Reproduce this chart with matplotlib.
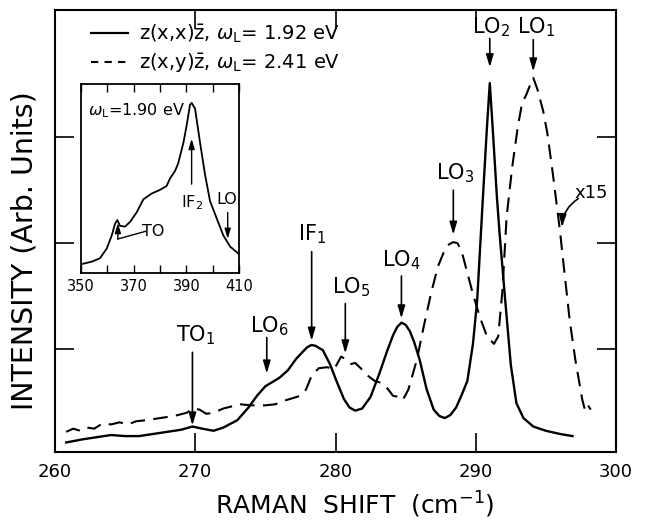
import matplotlib
matplotlib.use("Agg")
import matplotlib.pyplot as plt
from matplotlib.lines import Line2D

# ---------------- data ----------------
solid_x = [260.8, 262.0, 263.0, 264.0, 265.0, 266.0, 267.0, 268.0, 269.0, 269.8,
           270.5, 271.3, 272.0, 273.0, 273.8, 274.4, 275.0, 275.5, 276.0, 276.6,
           277.2, 277.7, 278.0, 278.3, 278.6, 279.1, 279.6, 280.1, 280.6, 281.0,
           281.4, 281.9, 282.5, 283.1, 283.7, 284.1, 284.4, 284.7, 285.0, 285.3,
           285.6, 286.0, 286.5, 287.0, 287.4, 287.8, 288.2, 288.6, 289.0, 289.4,
           289.8, 290.1, 290.5, 290.8, 291.0, 291.2, 291.5, 291.7, 292.1, 292.5,
           292.9, 293.4, 294.1, 295.0, 296.0, 296.9]
solid_y = [0.12, 0.15, 0.17, 0.19, 0.18, 0.18, 0.20, 0.22, 0.24, 0.27,
           0.25, 0.23, 0.26, 0.33, 0.45, 0.56, 0.65, 0.69, 0.73, 0.80,
           0.91, 0.98, 1.02, 1.04, 1.03, 0.99, 0.86, 0.69, 0.53, 0.45,
           0.42, 0.44, 0.55, 0.76, 0.99, 1.13, 1.21, 1.25, 1.23, 1.17,
           1.07, 0.90, 0.62, 0.43, 0.37, 0.35, 0.38, 0.45, 0.57, 0.70,
           1.05, 1.46, 2.41, 3.10, 3.51, 3.10, 2.45, 2.09, 1.46, 0.85,
           0.49, 0.35, 0.27, 0.23, 0.20, 0.18]

dashed_x = [260.8, 261.3, 261.8, 262.3, 262.8, 263.4, 264.0, 264.6, 265.2, 265.8,
            266.5, 267.5, 268.5, 269.4, 269.8, 270.3, 270.8, 271.3, 272.0, 272.6,
            273.2, 274.0, 275.0, 275.7, 276.5, 277.0, 277.5, 277.9, 278.3, 278.8,
            279.4, 279.9, 280.4, 280.8, 281.1, 281.4, 281.8, 282.3, 282.8, 283.3,
            283.7, 284.1, 284.5, 284.8, 285.2, 285.8, 286.3, 286.8, 287.3, 287.8,
            288.1, 288.4, 288.7, 289.0, 289.4, 289.8, 290.3, 290.8, 291.3, 291.6,
            291.9, 292.2, 292.6, 293.0, 293.3, 293.6, 293.9, 294.1, 294.4, 294.8,
            295.1, 295.5, 296.0, 296.3, 296.7, 297.1, 297.6, 297.8, 298.0, 298.2]
dashed_y = [0.22, 0.25, 0.23, 0.26, 0.25, 0.30, 0.29, 0.31, 0.29, 0.32,
            0.33, 0.35, 0.37, 0.40, 0.44, 0.43, 0.39, 0.40, 0.44, 0.46,
            0.48, 0.47, 0.47, 0.48, 0.52, 0.54, 0.56, 0.62, 0.75, 0.82,
            0.83, 0.81, 0.93, 0.90, 0.86, 0.87, 0.82, 0.75, 0.70, 0.68,
            0.63, 0.56, 0.55, 0.52, 0.62, 0.90, 1.22, 1.52, 1.78, 1.94,
            1.99, 2.01, 2.00, 1.92, 1.72, 1.52, 1.30, 1.12, 1.05, 1.12,
            1.55, 2.25, 2.72, 3.10, 3.32, 3.40, 3.50, 3.56, 3.45, 3.25,
            3.04, 2.65, 2.12, 1.75, 1.27, 0.90, 0.52, 0.42, 0.47, 0.43]

inset_x = [349.9, 354.1, 357.2, 359.8, 361.7, 362.9, 363.8, 364.8, 366.7, 368.6,
           371.1, 373.7, 376.8, 380.0, 382.5, 383.8, 385.7, 386.9, 388.9, 390.1,
           391.4, 392.0, 393.3, 395.2, 397.1, 399.0, 401.5, 404.0, 406.6, 410.0]
inset_y = [0.046, 0.06, 0.078, 0.13, 0.20, 0.26, 0.28, 0.25, 0.245, 0.27,
           0.32, 0.39, 0.42, 0.44, 0.46, 0.50, 0.54, 0.58, 0.69, 0.78,
           0.89, 0.90, 0.87, 0.69, 0.52, 0.38, 0.29, 0.20, 0.14, 0.10]

x_ticks = [260, 270, 280, 290, 300]
x_ticklabels = ["260", "270", "280", "290", "300"]
inset_ticks = [350, 360, 370, 380, 390, 400, 410]
inset_ticklabels = ["350", "", "370", "", "390", "", "410"]

legend_labels = [r"z(x,x)$\bar{\mathrm{z}}$, $\omega_{\mathrm{L}}$= 1.92 eV",
                 r"z(x,y)$\bar{\mathrm{z}}$, $\omega_{\mathrm{L}}$= 2.41 eV"]

# peak labels: (text, text x, text y, arrow tail y, arrow tip y)
peak_labels = [
    (r"TO$_1$", 270.0, 1.13, 0.97, 0.28),
    (r"LO$_6$", 275.3, 1.22, 1.11, 0.77),
    (r"IF$_1$", 278.3, 2.08, 1.92, 1.08),
    (r"LO$_5$", 281.1, 1.58, 1.43, 0.96),
    (r"LO$_4$", 284.7, 1.84, 1.69, 1.29),
    (r"LO$_3$", 288.5, 2.66, 2.50, 2.08),
    (r"LO$_2$", 291.1, 4.04, 3.93, 3.66),
    (r"LO$_1$", 294.3, 4.04, 3.92, 3.62),
]
arrow_x = [269.8, 275.1, 278.3, 280.7, 284.7, 288.4, 291.0, 294.1]

# ---------------- figure ----------------
fig = plt.figure(figsize=(6.46, 5.2), dpi=100)
ax = fig.add_axes([0.0851, 0.1308, 0.8685, 0.85])

ax.plot(solid_x, solid_y, color="black", lw=1.7, solid_joinstyle="round")
ax.plot(dashed_x, dashed_y, color="black", lw=1.5, dashes=(7, 4))

ax.set_xlim(260, 300)
ax.set_ylim(0.03, 4.2)
ax.set_xticks(x_ticks)
ax.set_xticklabels(x_ticklabels, fontsize=13)
ax.set_yticks([1, 2, 3])
ax.set_yticklabels([])
ax.tick_params(direction="in", length=14, width=1.2, top=True, right=True, pad=8)
for s in ax.spines.values():
    s.set_linewidth(1.5)

ax.set_xlabel(r"RAMAN  SHIFT  (cm$^{-1}$)", fontsize=18)
ax.xaxis.set_label_coords(0.535, -0.085)
ax.set_ylabel("INTENSITY (Arb. Units)", fontsize=20.5)
ax.yaxis.set_label_coords(-0.03, 0.455)

arrowprops = dict(arrowstyle="-|>,head_length=0.75,head_width=0.22", color="black",
                  lw=1.2, shrinkA=0, shrinkB=0)
for (lab, tx, ty, ya, yb), xa in zip(peak_labels, arrow_x):
    ax.text(tx, ty, lab, fontsize=15, ha="center", va="center")
    ax.annotate("", xy=(xa, yb), xytext=(xa, ya), arrowprops=arrowprops)

ax.text(298.2, 2.47, "x15", fontsize=13, ha="center", va="center")
ax.annotate("", xy=(296.15, 2.15), xytext=(297.3, 2.42),
            arrowprops=dict(arrowstyle="-|>,head_length=0.75,head_width=0.22",
                            color="black", lw=1.2, shrinkA=0, shrinkB=0,
                            connectionstyle="arc3,rad=0.25"))

handles = [Line2D([], [], color="black", lw=1.6),
           Line2D([], [], color="black", lw=1.5, dashes=(3.5, 3))]
leg = ax.legend(handles, legend_labels, loc="upper left", bbox_to_anchor=(0.064, 0.972),
                frameon=False, fontsize=14, handlelength=1.9, handletextpad=0.55,
                labelspacing=0.35, borderpad=0, borderaxespad=0)

# ---------------- inset ----------------
ins = fig.add_axes([0.1254, 0.475, 0.2446, 0.3635])
ins.plot(inset_x, inset_y, color="black", lw=1.3)
ins.set_xlim(350, 410)
ins.set_ylim(0, 1)
ins.set_xticks(inset_ticks)
ins.set_xticklabels(inset_ticklabels, fontsize=10.5)
ins.set_yticks([])
ins.tick_params(direction="in", length=6, width=1.0, top=True, pad=4)
for s in ins.spines.values():
    s.set_linewidth(1.3)

ins.text(352.5, 0.86, r"$\omega_{\mathrm{L}}$=1.90 eV", fontsize=11.5, ha="left", va="center")
small_arrow = dict(arrowstyle="-|>,head_length=0.6,head_width=0.18", color="black",
                   lw=1.0, shrinkA=0, shrinkB=0)
ins.text(392.0, 0.37, r"IF$_2$", fontsize=11.5, ha="center", va="center")
ins.annotate("", xy=(392.0, 0.71), xytext=(392.0, 0.47), arrowprops=small_arrow)
ins.text(405.3, 0.39, "LO", fontsize=11.5, ha="center", va="center")
ins.annotate("", xy=(405.7, 0.18), xytext=(405.7, 0.32), arrowprops=small_arrow)
ins.text(377.5, 0.22, "TO", fontsize=11.5, ha="center", va="center")
ins.plot([374.4, 364.0], [0.22, 0.18], color="black", lw=1.0)
ins.annotate("", xy=(364.0, 0.265), xytext=(364.0, 0.18), arrowprops=small_arrow)

fig.savefig("out.png", dpi=100)
